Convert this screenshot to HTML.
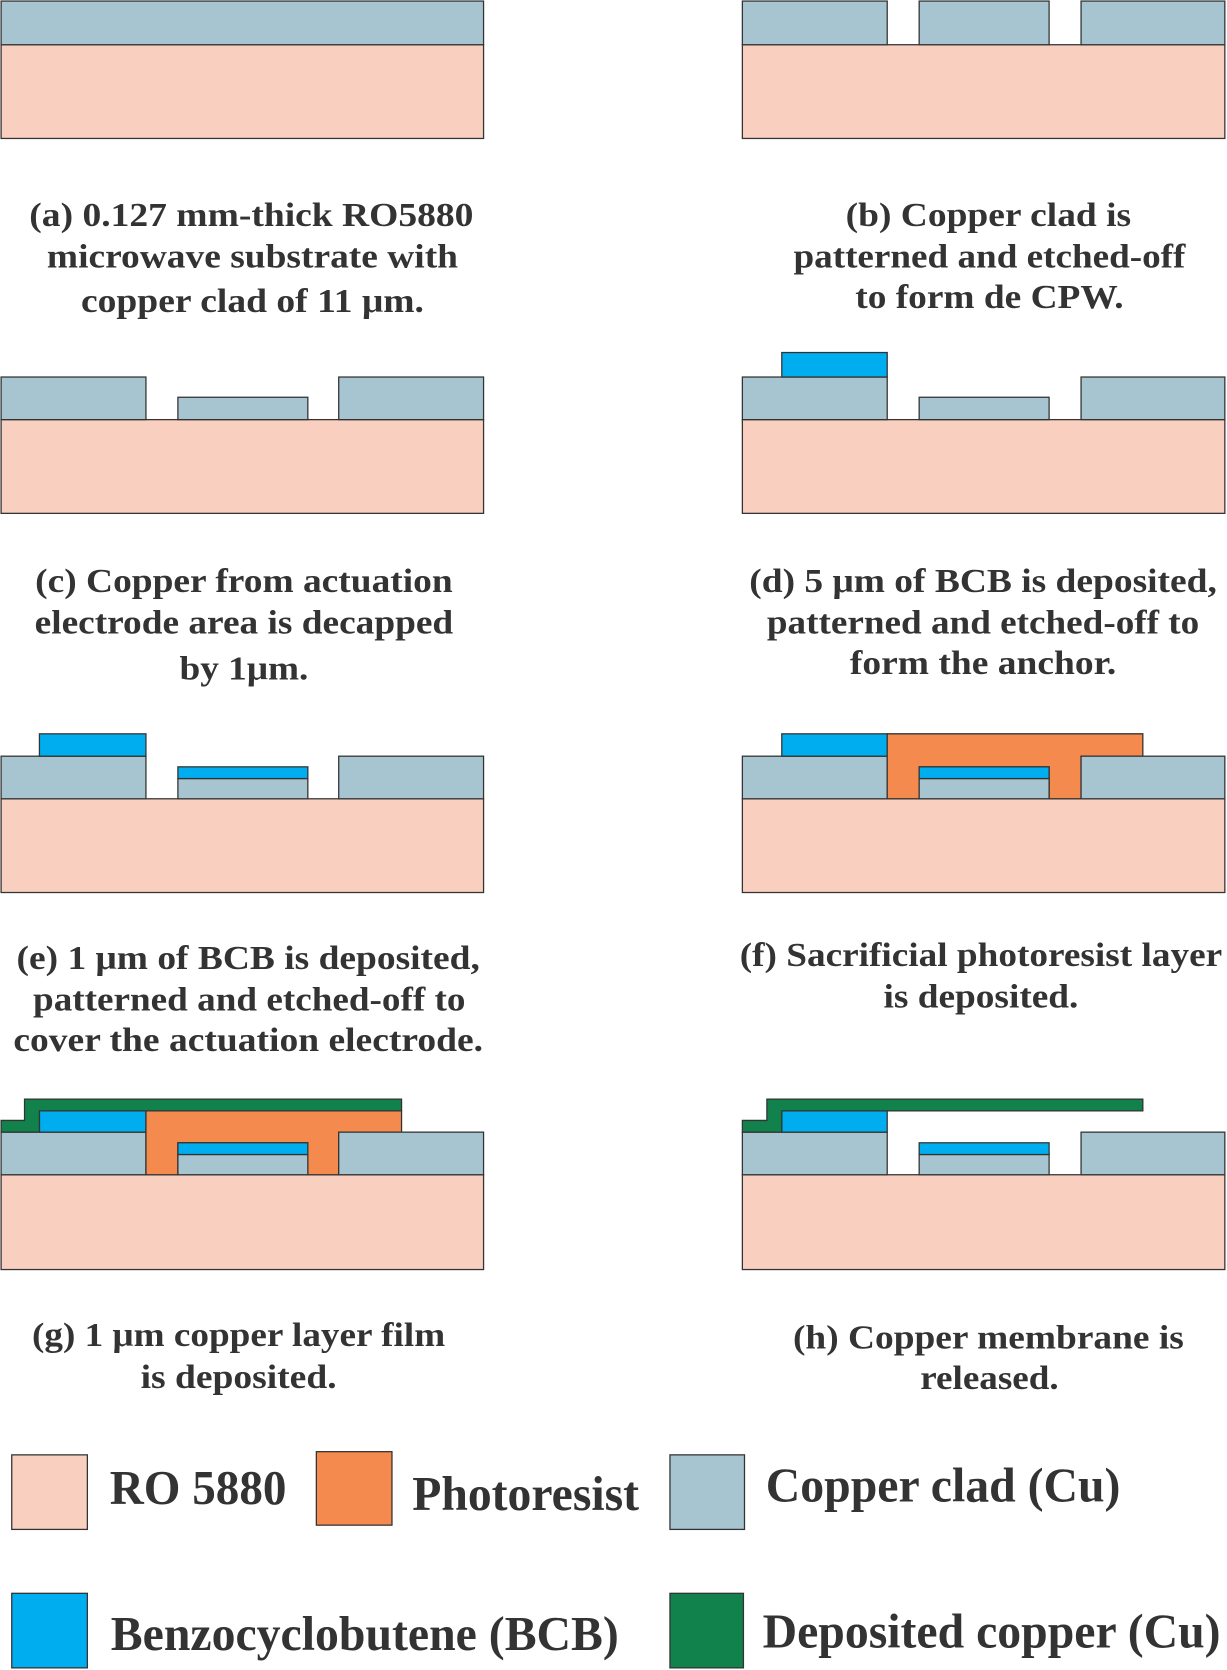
<!DOCTYPE html>
<html><head><meta charset="utf-8"><style>
html,body{margin:0;padding:0;background:#fff;}
svg{display:block}
text{font-family:"Liberation Serif",serif;font-weight:bold;fill:#333;}
.cap{font-size:32px}
.leg{font-size:46px}
.s{fill:#f9cfc0;stroke:#333;stroke-width:1.2}
.c{fill:#a7c4d1;stroke:#333;stroke-width:1.2}
.b{fill:#00aeef;stroke:#333;stroke-width:1.2}
.p{fill:#f58a4e;stroke:#333;stroke-width:1.2}
.g{fill:#12824d;stroke:#333;stroke-width:1.2}
</style></head><body>
<svg width="1227" height="1670" viewBox="0 0 1152 1568" xmlns="http://www.w3.org/2000/svg">
<!-- (a) -->
<g>
<rect class="s" x="1" y="42" width="453" height="88"/>
<rect class="c" x="1" y="1" width="453" height="41"/>
<text class="cap" x="236" y="212" text-anchor="middle" textLength="417" lengthAdjust="spacingAndGlyphs">(a) 0.127 mm-thick RO5880</text>
<text class="cap" x="237" y="251" text-anchor="middle" textLength="386" lengthAdjust="spacingAndGlyphs">microwave substrate with</text>
<text class="cap" x="237" y="293" text-anchor="middle" textLength="322" lengthAdjust="spacingAndGlyphs">copper clad of 11 μm.</text>
</g>
<!-- (b) -->
<g>
<rect class="s" x="697" y="42" width="453" height="88"/>
<rect class="c" x="697" y="1" width="136" height="41"/>
<rect class="c" x="863" y="1" width="122" height="41"/>
<rect class="c" x="1015" y="1" width="135" height="41"/>
<text class="cap" x="928" y="212" text-anchor="middle" textLength="268" lengthAdjust="spacingAndGlyphs">(b) Copper clad is</text>
<text class="cap" x="929" y="251" text-anchor="middle" textLength="368" lengthAdjust="spacingAndGlyphs">patterned and etched-off</text>
<text class="cap" x="929" y="289" text-anchor="middle" textLength="252" lengthAdjust="spacingAndGlyphs">to form de CPW.</text>
</g>
<!-- (c) -->
<g>
<rect class="s" x="1" y="394" width="453" height="88"/>
<rect class="c" x="1" y="354" width="136" height="40"/>
<rect class="c" x="167" y="373" width="122" height="21"/>
<rect class="c" x="318" y="354" width="136" height="40"/>
<text class="cap" x="229" y="556" text-anchor="middle" textLength="392" lengthAdjust="spacingAndGlyphs">(c) Copper from actuation</text>
<text class="cap" x="229" y="595" text-anchor="middle" textLength="393" lengthAdjust="spacingAndGlyphs">electrode area is decapped</text>
<text class="cap" x="229" y="638" text-anchor="middle" textLength="121" lengthAdjust="spacingAndGlyphs">by 1μm.</text>
</g>
<!-- (d) -->
<g>
<rect class="s" x="697" y="394" width="453" height="88"/>
<rect class="c" x="697" y="354" width="136" height="40"/>
<rect class="b" x="734" y="331" width="99" height="23"/>
<rect class="c" x="863" y="373" width="122" height="21"/>
<rect class="c" x="1015" y="354" width="135" height="40"/>
<text class="cap" x="923" y="556" text-anchor="middle" textLength="439" lengthAdjust="spacingAndGlyphs">(d) 5 μm of BCB is deposited,</text>
<text class="cap" x="923" y="595" text-anchor="middle" textLength="406" lengthAdjust="spacingAndGlyphs">patterned and etched-off to</text>
<text class="cap" x="923" y="633" text-anchor="middle" textLength="250" lengthAdjust="spacingAndGlyphs">form the anchor.</text>
</g>
<!-- (e) -->
<g>
<rect class="s" x="1" y="750" width="453" height="88"/>
<rect class="c" x="1" y="710" width="136" height="40"/>
<rect class="b" x="37" y="689" width="100" height="21"/>
<rect class="c" x="167" y="731" width="122" height="19"/>
<rect class="b" x="167" y="720" width="122" height="11"/>
<rect class="c" x="318" y="710" width="136" height="40"/>
<text class="cap" x="233" y="910" text-anchor="middle" textLength="435" lengthAdjust="spacingAndGlyphs">(e) 1 μm of BCB is deposited,</text>
<text class="cap" x="234" y="949" text-anchor="middle" textLength="406" lengthAdjust="spacingAndGlyphs">patterned and etched-off to</text>
<text class="cap" x="233" y="987" text-anchor="middle" textLength="441" lengthAdjust="spacingAndGlyphs">cover the actuation electrode.</text>
</g>
<!-- (f) -->
<g>
<rect class="s" x="697" y="750" width="453" height="88"/>
<rect class="c" x="697" y="710" width="136" height="40"/>
<rect class="b" x="734" y="689" width="99" height="21"/>
<path class="p" d="M833,689 H1073 V710 H1015 V750 H985 V720 H863 V750 H833 Z"/>
<rect class="c" x="863" y="731" width="122" height="19"/>
<rect class="b" x="863" y="720" width="122" height="11"/>
<rect class="c" x="1015" y="710" width="135" height="40"/>
<text class="cap" x="921" y="907" text-anchor="middle" textLength="453" lengthAdjust="spacingAndGlyphs">(f) Sacrificial photoresist layer</text>
<text class="cap" x="921" y="946" text-anchor="middle" textLength="183" lengthAdjust="spacingAndGlyphs">is deposited.</text>
</g>
<!-- (g) -->
<g>
<rect class="s" x="1" y="1103" width="453" height="89"/>
<rect class="c" x="1" y="1063" width="136" height="40"/>
<rect class="b" x="37" y="1043" width="100" height="20"/>
<path class="p" d="M137,1043 H377 V1063 H318 V1103 H289 V1073 H167 V1103 H137 Z"/>
<rect class="c" x="167" y="1084" width="122" height="19"/>
<rect class="b" x="167" y="1073" width="122" height="11"/>
<rect class="c" x="318" y="1063" width="136" height="40"/>
<path class="g" d="M23,1032 H377 V1043 H37 V1063 H1 V1052 H23 Z"/>
<text class="cap" x="224" y="1264" text-anchor="middle" textLength="388" lengthAdjust="spacingAndGlyphs">(g) 1 μm copper layer film</text>
<text class="cap" x="224" y="1303" text-anchor="middle" textLength="184" lengthAdjust="spacingAndGlyphs">is deposited.</text>
</g>
<!-- (h) -->
<g>
<rect class="s" x="697" y="1103" width="453" height="89"/>
<rect class="c" x="697" y="1063" width="136" height="40"/>
<rect class="b" x="734" y="1043" width="99" height="20"/>
<rect class="c" x="863" y="1084" width="122" height="19"/>
<rect class="b" x="863" y="1073" width="122" height="11"/>
<rect class="c" x="1015" y="1063" width="135" height="40"/>
<path class="g" d="M720,1032 H1073 V1043 H734 V1063 H697 V1052 H720 Z"/>
<text class="cap" x="928" y="1266" text-anchor="middle" textLength="367" lengthAdjust="spacingAndGlyphs">(h) Copper membrane is</text>
<text class="cap" x="929" y="1304" text-anchor="middle" textLength="130" lengthAdjust="spacingAndGlyphs">released.</text>
</g>
<!-- legend -->
<g>
<g>
<rect class="s" x="11" y="1366" width="71" height="70"/>
<text class="leg" x="103" y="1412" textLength="166" lengthAdjust="spacingAndGlyphs">RO 5880</text></g>
<g>
<rect class="p" x="297" y="1363" width="71" height="69"/>
<text class="leg" x="387" y="1418" textLength="213" lengthAdjust="spacingAndGlyphs">Photoresist</text></g>
<g>
<rect class="c" x="629" y="1366" width="70" height="70"/>
<text class="leg" x="719" y="1410" textLength="333" lengthAdjust="spacingAndGlyphs">Copper clad (Cu)</text></g>
<g>
<rect class="b" x="11" y="1496" width="71" height="70"/>
<text class="leg" x="104" y="1549" textLength="477" lengthAdjust="spacingAndGlyphs">Benzocyclobutene (BCB)</text></g>
<g>
<rect class="g" x="629" y="1496" width="69" height="70"/>
<text class="leg" x="716" y="1547" textLength="430" lengthAdjust="spacingAndGlyphs">Deposited copper (Cu)</text></g>
</g>
</svg>
</body></html>
